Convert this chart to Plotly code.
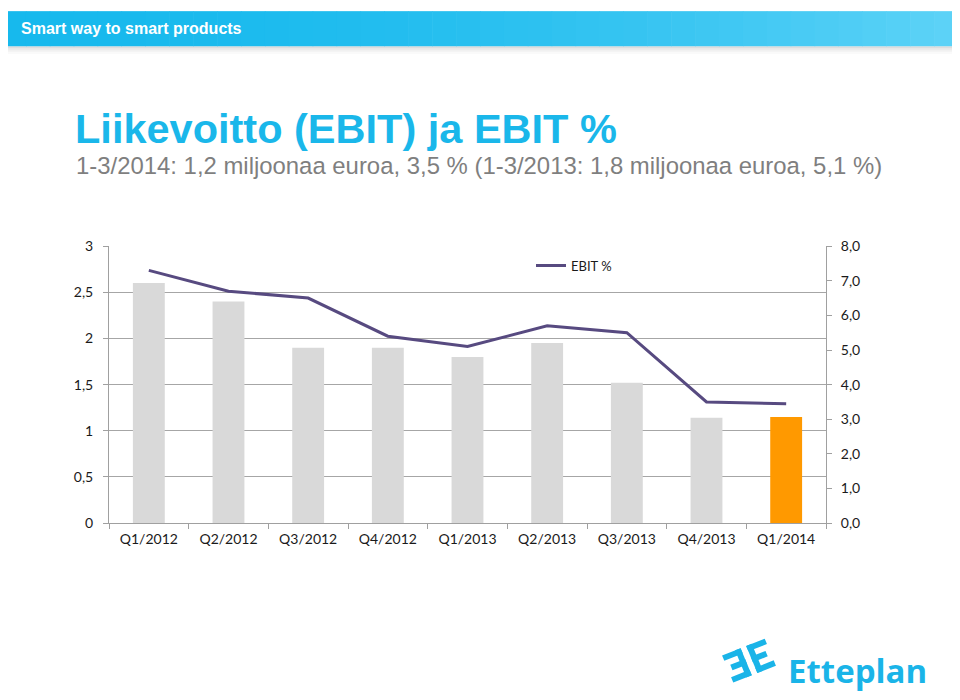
import math
import plotly.graph_objects as go

quarters = ["Q1/2012", "Q2/2012", "Q3/2012", "Q4/2012", "Q1/2013",
            "Q2/2013", "Q3/2013", "Q4/2013", "Q1/2014"]
ebit_meur = [2.6, 2.4, 1.9, 1.9, 1.8, 1.95, 1.52, 1.14, 1.15]
ebit_pct = [7.3, 6.7, 6.5, 5.4, 5.1, 5.7, 5.5, 3.5, 3.45]
left_ticks = [0, 0.5, 1, 1.5, 2, 2.5, 3]
right_ticks = [0, 1, 2, 3, 4, 5, 6, 7, 8]

# page body has an 8px margin; figure sized to fit the 960x700 window exactly
OFF = 8
W, H = 960 - 2 * OFF, 700 - 2 * OFF
def px(x):
    return (x - OFF) / W
def py(y):
    return 1 - (y - OFF) / H

bar_colors = ["#d9d9d9"] * (len(quarters) - 1) + ["#ff9900"]

fig = go.Figure()
fig.add_trace(go.Bar(x=quarters, y=ebit_meur, marker=dict(color=bar_colors, line=dict(width=0)),
                     width=0.4, showlegend=False, yaxis="y"))
fig.add_trace(go.Scatter(x=quarters, y=ebit_pct, mode="lines", name="EBIT %",
                         line=dict(color="#574a80", width=3), yaxis="y2"))

tickfont = dict(family="Lato, Open Sans, sans-serif", size=14, color="#1a1a1a")
axis_gray = "#a0a0a0"

fig.update_layout(
    width=W, height=H,
    margin=dict(l=0, r=0, t=0, b=0),
    paper_bgcolor="white", plot_bgcolor="white",
    separators=", ",
    xaxis=dict(domain=[px(109), px(826)], type="category", showgrid=False,
               showline=True, linecolor=axis_gray, linewidth=1,
               ticks="outside", tickson="boundaries", ticklen=5, tickcolor=axis_gray,
               tickfont=tickfont, ticklabelstandoff=3, fixedrange=True),
    yaxis=dict(domain=[py(527), py(243)], range=[0, 3], tickvals=left_ticks,
               showgrid=True, gridcolor="#a6a6a6", gridwidth=1,
               showline=True, linecolor=axis_gray, ticks="outside", ticklen=5,
               tickcolor=axis_gray, tickfont=tickfont, ticklabelstandoff=7, zeroline=False),
    yaxis2=dict(overlaying="y", side="right", range=[0, 8], tickvals=right_ticks,
                tickformat=".1f", showgrid=False, zeroline=False,
                showline=True, linecolor=axis_gray, ticks="outside", ticklen=5,
                tickcolor=axis_gray, tickfont=tickfont, ticklabelstandoff=6),
    legend=dict(x=px(531), y=py(263), xanchor="left", yanchor="middle",
                bgcolor="rgba(0,0,0,0)", font=dict(family="Lato, sans-serif", size=13, color="#1a1a1a")),
    font=dict(family="Liberation Sans, Arial, sans-serif"),
)

shapes = []
# header bar shadow
for i, op in enumerate([0.25, 0.15, 0.08, 0.04]):
    shapes.append(dict(type="rect", xref="paper", yref="paper",
                       x0=px(2), x1=px(958), y0=py(38 + 2 * (i + 1)), y1=py(38 + 2 * i),
                       fillcolor=f"rgba(120,120,120,{op})", line=dict(width=0), layer="below"))
# header bar with left-to-right lightening gradient
c0 = (0x17, 0xb9, 0xed)
c1 = (0x5e, 0xd3, 0xf7)
n = 40
x_start, x_end = 2, 958
for k in range(n):
    t = (k + 0.5) / n
    f = t ** 2
    col = tuple(round(a + (b - a) * f) for a, b in zip(c0, c1))
    xa = x_start + (x_end - x_start) * k / n
    xb = x_start + (x_end - x_start) * (k + 1) / n + 0.6
    shapes.append(dict(type="rect", xref="paper", yref="paper", x0=px(xa), x1=px(min(xb, x_end)),
                       y0=py(38), y1=py(2), fillcolor="#%02x%02x%02x" % col, line=dict(width=0)))

# logo symbol
def poly(rects, cx, cy, ang):
    t = math.radians(ang)
    out = []
    for (u0, u1, v0, v1) in rects:
        pts = [(u0, v0), (u1, v0), (u1, v1), (u0, v1)]
        s = ""
        for k, (u, v) in enumerate(pts):
            x = cx + u * math.cos(t) - v * math.sin(t)
            y = cy - (u * math.sin(t) + v * math.cos(t))
            s += ("M" if k == 0 else "L") + f"{px(x):.5f},{py(y):.5f} "
        s += "Z"
        out.append(s)
    return out

logo_rects = [
    (-9, -3, -15, 15), (-23, -3, 9, 15), (-19, -3, -3, 3), (-23, -3, -15, -9),
    (3, 9, -15, 15), (3, 23, 9, 15), (3, 19, -3, 3), (3, 23, -15, -9),
]
for p in poly(logo_rects, 749, 668, 22):
    shapes.append(dict(type="path", xref="paper", yref="paper", path=p,
                       fillcolor="#1ab4e8", line=dict(width=0)))
fig.update_layout(shapes=shapes)

annotations = [
    dict(text="<b>Smart way to smart products</b>", x=px(19), y=py(20),
         font=dict(family="Liberation Sans, Arial", size=16, color="white")),
    dict(text="<b>Liikevoitto (EBIT) ja EBIT %</b>", x=px(73), y=py(122),
         font=dict(family="Liberation Sans, Arial", size=41.5, color="#1ab7ea")),
    dict(text="1-3/2014: 1,2 miljoonaa euroa, 3,5 % (1-3/2013: 1,8 miljoonaa euroa, 5,1 %)",
         x=px(74), y=py(160),
         font=dict(family="Liberation Sans, Arial", size=23.9, color="#7f7f7f")),
    dict(text="<b>Etteplan</b>", x=px(786), y=py(678),
         font=dict(family="Open Sans, sans-serif", size=33, color="#1ab4e8")),
]
for a in annotations:
    a.update(xref="paper", yref="paper", xanchor="left", yanchor="middle", showarrow=False)
fig.update_layout(annotations=annotations)

fig.write_html("out.html")
